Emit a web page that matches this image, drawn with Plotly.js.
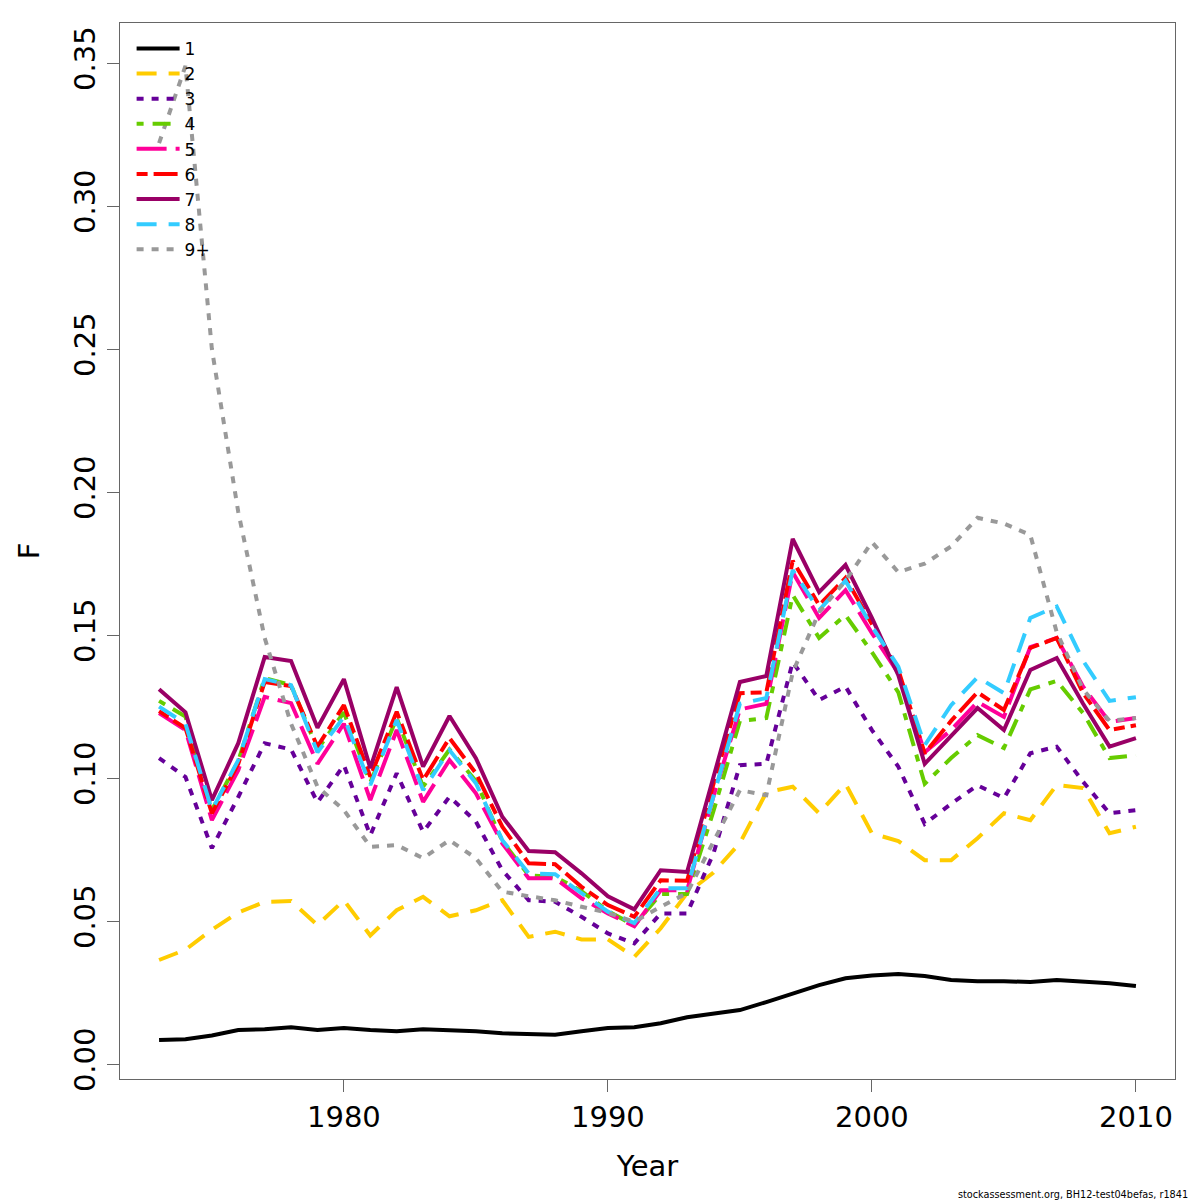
<!DOCTYPE html>
<html>
<head>
<meta charset="utf-8">
<script src="https://cdn.plot.ly/plotly-3.0.1.min.js"></script>
<style>html,body{margin:0;padding:0;background:#fff;}#chart{width:1200px;height:1200px;}</style>
</head>
<body>
<div id="chart"></div>
<script>
const years = [1973,1974,1975,1976,1977,1978,1979,1980,1981,1982,1983,1984,1985,1986,1987,1988,1989,1990,1991,1992,1993,1994,1995,1996,1997,1998,1999,2000,2001,2002,2003,2004,2005,2006,2007,2008,2009,2010];

const age1 = [0.0084,0.0087,0.0100,0.0119,0.0122,0.0129,0.0119,0.0126,0.0119,0.0115,0.0122,0.0120,0.0115,0.0108,0.0105,0.0103,0.0115,0.0126,0.0129,0.0143,0.0164,0.0175,0.0189,0.0217,0.0248,0.0276,0.0300,0.0310,0.0315,0.0308,0.0294,0.0290,0.0290,0.0287,0.0294,0.0290,0.0283,0.0273];
const age2 = [0.0364,0.0400,0.0470,0.0530,0.0567,0.0570,0.0486,0.0573,0.0450,0.0538,0.0585,0.0517,0.0538,0.0573,0.0445,0.0463,0.0436,0.0436,0.0375,0.0475,0.0598,0.0670,0.0773,0.0950,0.0970,0.0877,0.0980,0.0807,0.0780,0.0713,0.0713,0.0790,0.0877,0.0853,0.0976,0.0965,0.0807,0.0830];
const age3 = [0.1070,0.1004,0.0755,0.0934,0.1122,0.1100,0.0915,0.1045,0.0800,0.1017,0.0812,0.0935,0.0848,0.0678,0.0573,0.0568,0.0515,0.0457,0.0422,0.0527,0.0527,0.0737,0.1045,0.1050,0.1406,0.1273,0.1320,0.1168,0.1040,0.0840,0.0910,0.0975,0.0930,0.1087,0.1110,0.0987,0.0877,0.0888];
const age4 = [0.1270,0.1215,0.0888,0.1060,0.1350,0.1325,0.1100,0.1230,0.0985,0.1210,0.0970,0.1100,0.0990,0.0780,0.0660,0.0655,0.0605,0.0535,0.0485,0.0595,0.0595,0.0885,0.1200,0.1210,0.1640,0.1490,0.1570,0.1440,0.1300,0.0980,0.1070,0.1150,0.1105,0.1310,0.1340,0.1227,0.1070,0.1080];
const age5 = [0.1227,0.1168,0.0853,0.1028,0.1284,0.1262,0.1050,0.1190,0.0923,0.1168,0.0917,0.1063,0.0947,0.0772,0.0650,0.0650,0.0580,0.0527,0.0482,0.0608,0.0608,0.0937,0.1240,0.1260,0.1720,0.1560,0.1657,0.1507,0.1367,0.1090,0.1168,0.1266,0.1214,0.1458,0.1490,0.1320,0.1196,0.1210];
const age6 = [0.1234,0.1175,0.0877,0.1050,0.1336,0.1322,0.1110,0.1255,0.1005,0.1232,0.0993,0.1140,0.1017,0.0830,0.0702,0.0699,0.0620,0.0556,0.0515,0.0643,0.0641,0.0980,0.1297,0.1300,0.1760,0.1605,0.1700,0.1540,0.1378,0.1087,0.1200,0.1300,0.1238,0.1455,0.1490,0.1297,0.1168,0.1185];
const age7 = [0.1311,0.1230,0.0923,0.1122,0.1423,0.1409,0.1176,0.1346,0.1035,0.1318,0.1040,0.1217,0.1070,0.0865,0.0745,0.0741,0.0667,0.0587,0.0541,0.0678,0.0672,0.1007,0.1336,0.1357,0.1836,0.1650,0.1745,0.1560,0.1360,0.1050,0.1150,0.1245,0.1168,0.1378,0.1420,0.1260,0.1110,0.1140];
const age8 = [0.1250,0.1190,0.0888,0.1063,0.1346,0.1325,0.1090,0.1214,0.0976,0.1203,0.0958,0.1098,0.0982,0.0783,0.0667,0.0664,0.0598,0.0533,0.0493,0.0615,0.0615,0.0934,0.1260,0.1280,0.1727,0.1587,0.1690,0.1530,0.1390,0.1115,0.1255,0.1353,0.1297,0.1560,0.1600,0.1410,0.1270,0.1283];
const age9 = [0.3220,0.3490,0.2500,0.1930,0.1490,0.1190,0.0970,0.0888,0.0760,0.0766,0.0720,0.0783,0.0720,0.0603,0.0587,0.0573,0.0550,0.0529,0.0498,0.0550,0.0598,0.0776,0.0958,0.0940,0.1370,0.1580,0.1690,0.1825,0.1720,0.1750,0.1810,0.1910,0.1890,0.1850,0.1510,0.1310,0.1200,0.1210];

const seriesNames = ["1","2","3","4","5","6","7","8","9+"];
const seriesData = [age1,age2,age3,age4,age5,age6,age7,age8,age9];
const colors = ["#000000","#FFCC00","#660099","#66CC00","#FF0099","#FF0000","#990066","#33CCFF","#999999"];
const dashes = ["solid","20px,12px","7px,8px","7px,9px,18px,9px","30px,9px","11px,6px,24px,6px","solid","20px,12px","7px,8px"];

const yTicks = [0,0.05,0.10,0.15,0.20,0.25,0.30,0.35];
const yTickText = ["0.00","0.05","0.10","0.15","0.20","0.25","0.30","0.35"];
const xTicks = [1980,1990,2000,2010];

const traces = seriesNames.map((n,i)=>({
  x: years, y: seriesData[i], name: n, type: "scatter", mode: "lines",
  line: {color: colors[i], width: 4, dash: dashes[i]}
}));

const font = "DejaVu Sans, sans-serif";
const layout = {
  width: 1200, height: 1200,
  paper_bgcolor: "#fff", plot_bgcolor: "#fff",
  margin: {l:120, r:25, t:23, b:121},
  showlegend: true,
  legend: {x:0.011, y:0.9925, xanchor:"left", yanchor:"top", bgcolor:"rgba(0,0,0,0)",
           itemwidth:43,
           font:{family:font, size:17, color:"#000"}, tracegroupgap:0},
  xaxis: {range:[1971.52,2011.48], tickvals:xTicks, ticks:"outside", ticklen:12, tickcolor:"#666",
          showgrid:false, zeroline:false, showline:true, mirror:true, linecolor:"#666", linewidth:1.3,
          tickfont:{family:font, size:29, color:"#000"},
          title:{text:"Year", font:{family:font, size:29, color:"#000"}, standoff:22}},
  yaxis: {range:[-0.0052,0.364], tickvals:yTicks, ticktext:yTickText, tickangle:-90, ticks:"outside", ticklen:12, tickcolor:"#666",
          showgrid:false, zeroline:false, showline:true, mirror:true, linecolor:"#666", linewidth:1.3,
          tickfont:{family:font, size:29, color:"#000"},
          title:{text:"F", font:{family:font, size:29, color:"#000"}, standoff:20}},
  annotations: [{text:"stockassessment.org, BH12-test04befas, r1841", xref:"paper", yref:"paper",
                 x:1.014, y:-0.109, xanchor:"right", yanchor:"middle", showarrow:false,
                 font:{family:font, size:9.7, color:"#000"}}]
};
Plotly.newPlot("chart", traces, layout, {staticPlot:true, displayModeBar:false});
</script>
</body>
</html>
